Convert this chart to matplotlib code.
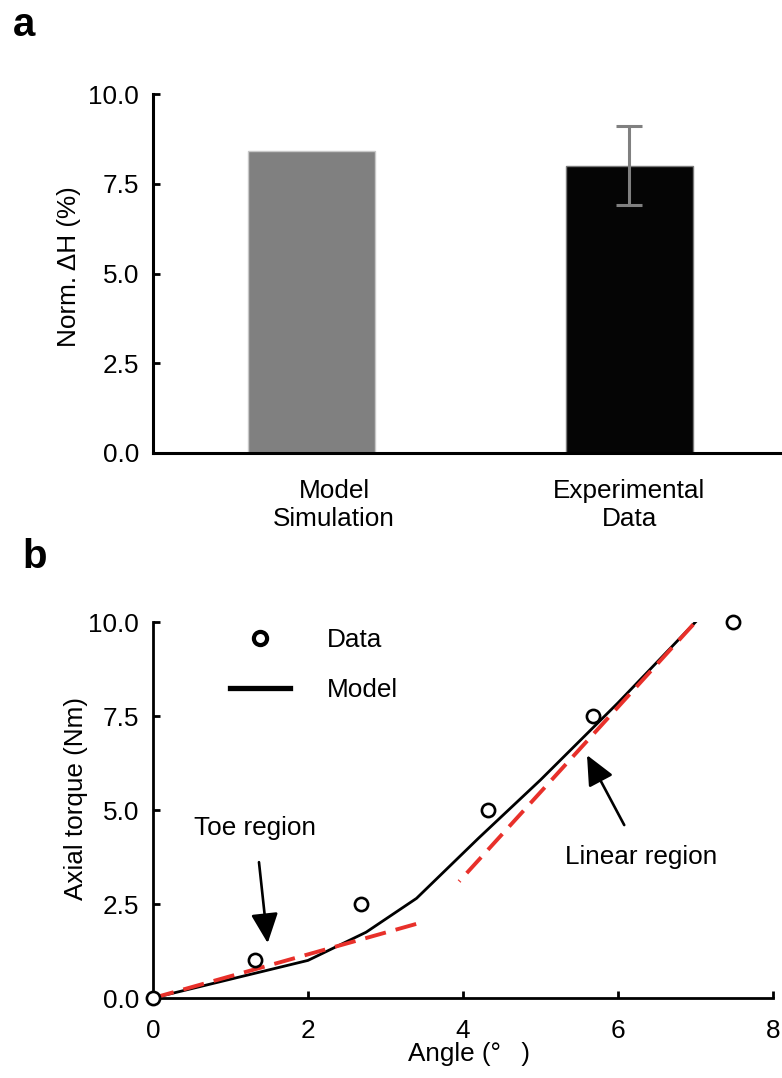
import matplotlib
matplotlib.use("Agg")
import matplotlib.pyplot as plt

plt.rcParams['font.family'] = ['Liberation Sans', 'DejaVu Sans']

# Panel a: normalised height change
bar_labels = ["Model\nSimulation", "Experimental\nData"]
bar_values = [8.4, 8.0]
bar_errors = [0.0, 1.1]
bar_colors = ["#808080", "#050505"]

# Panel b: axial torque vs angle
data_angle = [0.0, 1.32, 2.68, 4.32, 5.68, 7.48]
data_torque = [0.0, 1.0, 2.5, 5.0, 7.5, 10.0]
model_angle = [0.0, 1.0, 2.0, 2.75, 3.4, 4.2, 5.0, 6.0, 7.0]
model_torque = [0.0, 0.5, 1.0, 1.75, 2.65, 4.25, 5.8, 7.85, 10.0]
toe_angle = [0.0, 3.5]
toe_torque = [0.0, 2.03]
linear_angle = [3.95, 7.0]
linear_torque = [3.1, 10.0]

FS = 18.8
W, H = 782, 1078
fig = plt.figure(figsize=(W / 100, H / 100), dpi=100)


def frac_box(left, top, right, bottom):
    return [left / W, 1 - bottom / H, (right - left) / W, (bottom - top) / H]


# ---- panel a ----
ax1 = fig.add_axes(frac_box(153, 94, 788, 453))
pos = [0, 1]
ax1.bar(pos, bar_values, width=0.4, color=bar_colors,
        edgecolor=["#c8c8c8", "#7a7a7a"], linewidth=1.0, zorder=2)
ax1.errorbar(pos[1], bar_values[1], yerr=bar_errors[1], fmt='none',
             ecolor="#808080", elinewidth=2.2, capsize=9.5, capthick=2.2, zorder=3)
ax1.set_xlim(-0.5, 1.5)
ax1.set_ylim(0, 10)
ax1.set_yticks([0, 2.5, 5.0, 7.5, 10.0])
ax1.set_yticklabels(["0.0", "2.5", "5.0", "7.5", "10.0"])
ax1.set_xticks([0.07, 1.0])
ax1.set_xticklabels(bar_labels, linespacing=1.2)
ax1.tick_params(axis='x', length=0, pad=19, labelsize=FS)
ax1.tick_params(axis='y', direction='in', length=5, width=2, pad=10, labelsize=FS)
for s in ['top', 'right']:
    ax1.spines[s].set_visible(False)
for s in ['left', 'bottom']:
    ax1.spines[s].set_linewidth(2.2)
ax1.set_ylabel("Norm. \u0394H (%)", fontsize=FS)
ax1.yaxis.set_label_coords(-0.113, 0.52)

# ---- panel b ----
ax2 = fig.add_axes(frac_box(153, 622, 773, 998))
ax2.plot(model_angle, model_torque, color='black', lw=2.0, label='Model', zorder=3)
ax2.plot(toe_angle, toe_torque, color='#e8302a', lw=2.8,
         linestyle=(0, (5.5, 2.6)), zorder=4)
ax2.plot(linear_angle, linear_torque, color='#e8302a', lw=2.8,
         linestyle=(5.2, (5.5, 2.6)), zorder=4)
ax2.plot(data_angle, data_torque, linestyle='none', marker='o', markersize=9.5,
         markerfacecolor='white', markeredgecolor='black', markeredgewidth=1.9,
         label='Data', clip_on=False, zorder=5)

arrow_style = dict(arrowstyle='-|>,head_length=0.7,head_width=0.32',
                   color='black', lw=1.9, mutation_scale=26,
                   shrinkA=14, shrinkB=0)
ax2.annotate("Toe region", xy=(1.48, 1.46), xytext=(1.32, 4.52),
             fontsize=FS, ha='center', va='center', arrowprops=arrow_style)
ax2.annotate("Linear region", xy=(5.6, 6.46), xytext=(6.3, 3.75),
             fontsize=FS, ha='center', va='center', arrowprops=arrow_style)

handles, labels = ax2.get_legend_handles_labels()
leg = ax2.legend(handles[::-1], labels[::-1], loc='upper left',
                 bbox_to_anchor=(0.124, 0.983), frameon=False, fontsize=FS,
                 handlelength=2.3, handletextpad=1.4, labelspacing=0.98,
                 borderpad=0, borderaxespad=0)
for h in leg.legend_handles:
    if h.get_label() == 'Model':
        h.set_linewidth(3.8)
    else:
        h.set_markeredgewidth(3.0)

ax2.set_xlim(0, 8)
ax2.set_ylim(0, 10)
ax2.set_xticks([0, 2, 4, 6, 8])
ax2.set_yticks([0, 2.5, 5.0, 7.5, 10.0])
ax2.set_yticklabels(["0.0", "2.5", "5.0", "7.5", "10.0"])
ax2.tick_params(axis='x', direction='in', length=5, width=2, pad=15, labelsize=FS)
ax2.tick_params(axis='y', direction='in', length=5, width=2, pad=10, labelsize=FS)
for s in ['top', 'right']:
    ax2.spines[s].set_visible(False)
for s in ['left', 'bottom']:
    ax2.spines[s].set_linewidth(2.0)
ax2.set_ylabel("Axial torque (Nm)", fontsize=FS)
ax2.yaxis.set_label_coords(-0.105, 0.53)
ax2.set_xlabel("Angle (\u00b0\u2002 )", fontsize=FS)
ax2.xaxis.set_label_coords(0.51, -0.118)

# panel letters
fig.text(13 / W, 1 - 6 / H, "a", fontsize=29, fontweight='bold', va='top', ha='left')
fig.text(22 / W, 1 - 538 / H, "b", fontsize=29, fontweight='bold', va='top', ha='left')

fig.savefig("out.png", dpi=100)
